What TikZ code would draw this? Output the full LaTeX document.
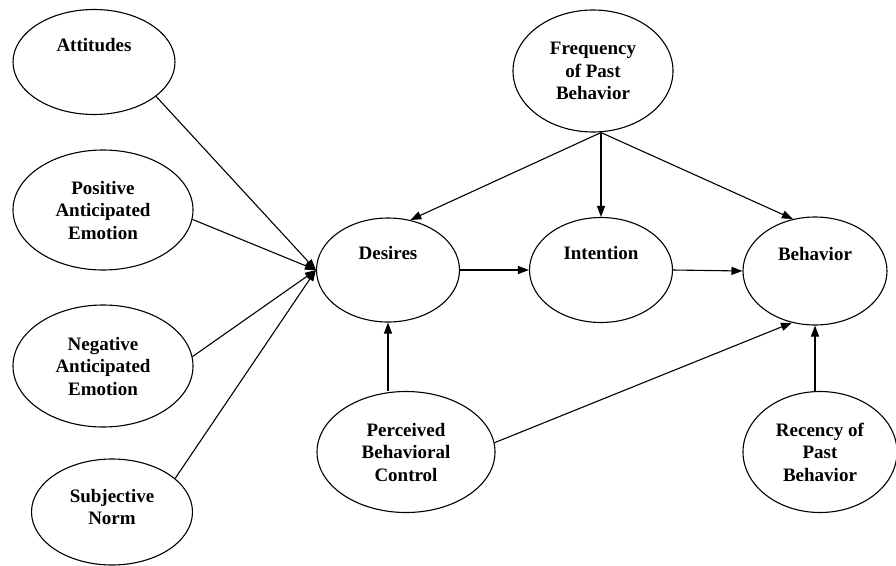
\documentclass[tikz,border=0pt]{standalone}
\usepackage{fontspec}
\setmainfont{Liberation Serif}
\usetikzlibrary{shapes.geometric,arrows.meta}
\begin{document}
\begin{tikzpicture}[x=1pt,y=-1pt,
  el/.style={draw=black, line width=1.1pt, ellipse, inner sep=0pt, align=center,
    font=\bfseries\fontsize{19}{22.5}\selectfont},
  topt/.style={text height=13pt, text depth=35pt},
  arr/.style={draw=black, line width=1.1pt, -{Triangle[length=11pt,width=8pt]}}]
\clip (0,0) rectangle (896,565);
\fill[white] (0,0) rectangle (896,565);
% left column
\node[el,topt,minimum width=162pt,minimum height=105pt] (att) at (94,62) {Attitudes};
\node[el,minimum width=180pt,minimum height=120pt] (pos) at (103,210) {Positive\\Anticipated\\Emotion};
\node[el,minimum width=180pt,minimum height=122pt] (neg) at (103,366) {Negative\\Anticipated\\Emotion};
\node[el,minimum width=161pt,minimum height=106pt] (subj) at (112,512) {Subjective\\Norm\\[-12pt]\mbox{}};
% middle row
\node[el,topt,minimum width=143pt,minimum height=104pt] (des) at (388,270) {Desires};
\node[el,topt,minimum width=143pt,minimum height=105pt] (int) at (601,270) {Intention};
\node[el,topt,minimum width=144pt,minimum height=108pt] (beh) at (815,271) {Behavior};
% others
\node[el,minimum width=160pt,minimum height=122pt] (freq) at (593,71) {Frequency\\of Past\\Behavior};
\node[el,minimum width=178pt,minimum height=121pt] (perc) at (406,452) {Perceived\\Behavioral\\Control};
\node[el,minimum width=154pt,minimum height=121pt] (rec) at (820,452) {Recency of\\Past\\Behavior};
% connectors
\coordinate (fs) at (freq.south -| int.north);
\draw[arr] (att.-29) -- (des.west);
\draw[arr] (pos.-6) -- (des.west);
\draw[arr] (neg.6) -- (des.west);
\draw[arr] (subj.28) -- (des.west);
\draw[arr] (des.east) -- (int.west);
\draw[arr] (int.east) -- (beh.west);
\draw[arr] (fs) -- (des.66);
\draw[arr] (fs) -- (int.north);
\draw[arr] (fs) -- (beh.113);
\draw[arr] (perc.north -| des.south) -- (des.south);
\draw[arr] (perc.6) -- (beh.246);
\draw[arr] (rec.north -| beh.south) -- (beh.south);
\end{tikzpicture}
\end{document}
